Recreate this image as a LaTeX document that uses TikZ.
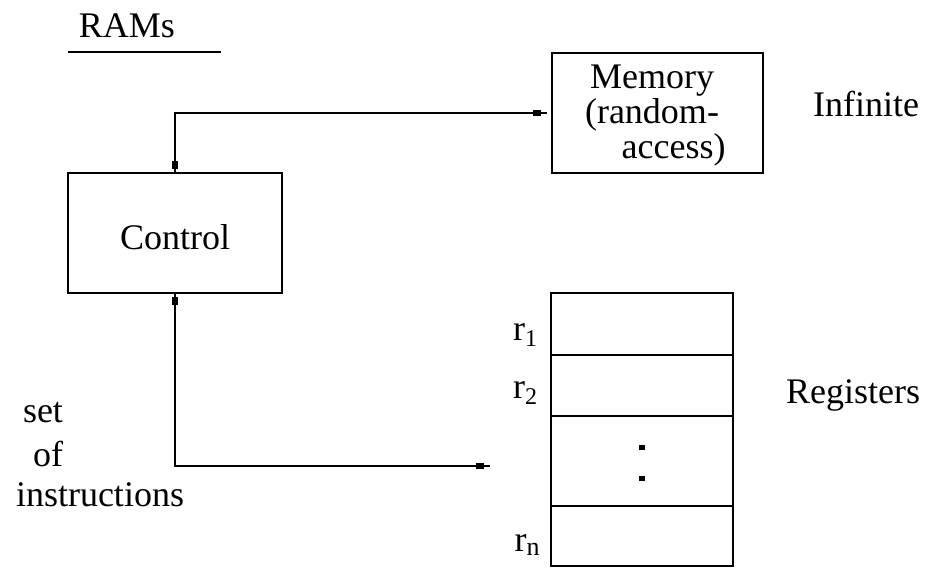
\documentclass[tikz,border=0pt]{standalone}
\usepackage{fontspec}
\setmainfont{Liberation Serif}
\usetikzlibrary{decorations.markings}
\begin{document}
\begin{tikzpicture}[x=0.5pt,y=-0.5pt,
  lbl/.style={inner sep=0pt,font=\fontsize{18}{17.5}\selectfont},
  boxed/.style={draw,line width=0.75pt},
  conn/.style={line width=1pt,postaction={decorate},
    decoration={markings,
      mark=at position 4pt with {\fill (-2pt,-1.3pt) rectangle (2pt,1.3pt);},
      mark=at position -5pt with {\fill (-2pt,-1.3pt) rectangle (2pt,1.3pt);}}}]
\useasboundingbox (0,0) rectangle (930,567);
% title
\node[lbl,anchor=base] (title) at (127,38) {RAMs};
\draw[line width=0.8pt] (68,52) -- (221,52);
% boxes
\draw[boxed] (68,173) rectangle (282,293);
\node[lbl] (control) at (175,237) {Control};
\coordinate (ctop) at (175,173);
\coordinate (cbot) at (175,293);
\draw[boxed] (552,53) rectangle (763,173);
\node[lbl,align=center] (mem) at (652,116) {Memory\\(random-\\\hspace*{1.2em}access)};
\coordinate (mleft) at (547,113);
\node[lbl] (inf) at (866,104) {Infinite};
% registers
\draw[boxed] (551,293) rectangle (733,566);
\draw[line width=0.75pt] (551,355) -- (733,355) (551,416) -- (733,416) (551,506) -- (733,506);
\fill (639,445) rectangle (645,450);
\fill (639,476) rectangle (645,481);
\node[lbl] (r1) at (525,335) {r\raisebox{-0.35ex}{\fontsize{12}{12}\selectfont 1}};
\node[lbl] (r2) at (525,393) {r\raisebox{-0.35ex}{\fontsize{12}{12}\selectfont 2}};
\node[lbl] (rn) at (527,545) {r\raisebox{-0.2ex}{\fontsize{13}{13}\selectfont n}};
\node[lbl] (regs) at (853,395) {Registers};
\coordinate (rfree) at (490,466);
% connectors
\draw[conn] (ctop) |- (mleft);
\draw[conn] (cbot) |- (rfree);
% side label
\node[lbl] (set) at (43,413) {set};
\node[lbl] (of) at (48,454) {of};
\node[lbl] (instr) at (100,495) {instructions};
\end{tikzpicture}
\end{document}
